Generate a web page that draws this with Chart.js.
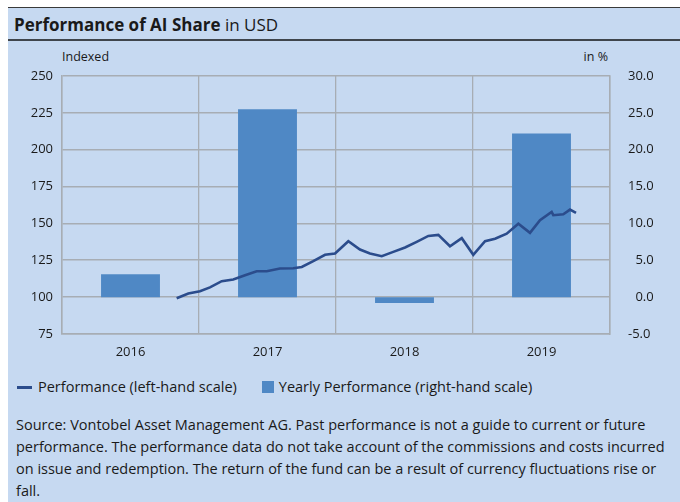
<!DOCTYPE html>
<html lang="en">
<head>
    <meta charset="UTF-8">
    <title>Performance of AI Share in USD</title>
    <script src="https://cdn.jsdelivr.net/npm/chart.js"></script>
    <style>
        body {
            margin: 0;
            background: #ffffff;
            font-family: 'Open Sans', sans-serif;
            color: #1a1a1a;
        }
        #panel {
            position: absolute;
            left: 8px;
            top: 7px;
            width: 672px;
            height: 495px;
            background: #c6d9f1;
            border-top: 1.5px solid #3a3a3a;
            overflow: hidden;
        }
        #title {
            position: absolute;
            left: 6px;
            top: 5px;
            font-size: 17px;
            white-space: nowrap;
        }
        #title b { font-weight: 700; }
        #sep {
            position: absolute;
            left: 0;
            top: 31px;
            width: 672px;
            height: 2px;
            background: #3f454c;
        }
        .unit {
            position: absolute;
            top: 40px;
            font-size: 12.5px;
        }
        #chartBox {
            position: absolute;
            left: 0;
            top: 35px;
            width: 672px;
            height: 330px;
        }
        #legend {
            position: absolute;
            left: 9px;
            top: 369px;
            font-size: 14.5px;
            white-space: nowrap;
        }
        .mark-line {
            display: inline-block;
            width: 15px;
            height: 3px;
            background: #2b4c8c;
            vertical-align: middle;
            margin-right: 6px;
            position: relative;
            top: -1px;
        }
        .mark-bar {
            display: inline-block;
            width: 12px;
            height: 12px;
            background: #4f88c5;
            vertical-align: middle;
            margin-left: 25px;
            margin-right: 5px;
            position: relative;
            top: -1px;
        }
        #source {
            position: absolute;
            left: 8px;
            top: 406px;
            font-size: 14.5px;
            line-height: 22px;
            white-space: nowrap;
        }
    </style>
</head>
<body>

<div id="panel">
    <div id="title"><b>Performance of AI Share</b> in USD</div>
    <div id="sep"></div>
    <div class="unit" style="left:54px;">Indexed</div>
    <div class="unit" style="right:72px;">in %</div>
    <div id="chartBox"><canvas id="chart" width="672" height="330"></canvas></div>
    <div id="legend"><span class="mark-line"></span>Performance (left-hand scale)<span class="mark-bar"></span>Yearly Performance (right-hand scale)</div>
    <div id="source">Source: Vontobel Asset Management AG. Past performance is not a guide to current or future<br>performance. The performance data do not take account of the commissions and costs incurred<br>on issue and redemption. The return of the fund can be a result of currency fluctuations rise or<br>fall.</div>
</div>

<script>
    // Years (categories) and yearly performance in % (right-hand scale)
    const years = ['2016', '2017', '2018', '2019'];
    const yearlyPerf = [3.1, 25.5, -0.8, 22.2];

    // Performance index (left-hand scale), dates as decimal years
    const perfDates = [
        2016.837, 2016.922, 2017.007, 2017.080, 2017.166, 2017.250, 2017.336, 2017.421,
        2017.494, 2017.591, 2017.688, 2017.750, 2017.834, 2017.920, 2017.993, 2018.090,
        2018.175, 2018.248, 2018.334, 2018.418, 2018.504, 2018.589, 2018.674, 2018.747,
        2018.832, 2018.918, 2019.002, 2019.088, 2019.161, 2019.246, 2019.331, 2019.416,
        2019.489, 2019.574, 2019.586, 2019.659, 2019.708, 2019.752
    ];
    const perfValues = [
        99.3, 102.5, 104.0, 106.6, 110.8, 112.0, 114.9, 117.6,
        117.6, 119.4, 119.6, 120.5, 124.4, 128.7, 129.6, 137.9,
        132.3, 129.6, 127.8, 130.7, 133.7, 137.5, 141.5, 142.2,
        134.5, 140.0, 128.7, 137.9, 139.6, 143.0, 149.8, 143.6,
        152.2, 157.8, 155.6, 156.2, 159.4, 157.1
    ];

    // Axis ranges
    const leftMin = 75, leftMax = 250, leftStep = 25;
    const rightMin = -5, rightMax = 30, rightStep = 5;

    const gridColor = '#a7adb4';
    const textColor = '#1a1a1a';

    Chart.defaults.font.family = "'Open Sans', sans-serif";
    Chart.defaults.color = textColor;

    // right-hand labels are right aligned: pad single digits with a figure space
    function rightLabel(v) {
        const s = v.toFixed(1);
        return (v >= 0 && v < 10) ? '\u2007' + s : s;
    }

    const ctx = document.getElementById('chart').getContext('2d');
    new Chart(ctx, {
        type: 'bar',
        data: {
            labels: years,
            datasets: [{
                type: 'line',
                label: 'Performance (left-hand scale)',
                data: perfDates.map((d, i) => ({ x: d, y: perfValues[i] })),
                xAxisID: 'xLine',
                yAxisID: 'yLeft',
                borderColor: '#2b4c8c',
                borderWidth: 2.6,
                pointRadius: 0,
                tension: 0,
                fill: false,
                order: 0
            }, {
                type: 'bar',
                label: 'Yearly Performance (right-hand scale)',
                data: yearlyPerf,
                xAxisID: 'x',
                yAxisID: 'yRight',
                backgroundColor: '#4f88c5',
                borderWidth: 0,
                grouped: false,
                barPercentage: 0.43,
                categoryPercentage: 1,
                order: 1
            }]
        },
        options: {
            responsive: false,
            animation: false,
            layout: { padding: { left: 0, right: 27, top: 33, bottom: 14 } },
            plugins: {
                legend: { display: false },
                tooltip: { enabled: false }
            },
            scales: {
                x: {
                    type: 'category',
                    offset: true,
                    grid: { offset: true, color: gridColor, lineWidth: 1.3, drawTicks: false },
                    border: { display: true, color: gridColor, width: 1.5 },
                    ticks: { padding: 10, font: { size: 13 }, color: textColor },
                    afterFit: s => { s.height = 25; }
                },
                xLine: {
                    type: 'linear',
                    display: false,
                    offset: false,
                    min: 2016,
                    max: 2020
                },
                yLeft: {
                    position: 'left',
                    min: leftMin,
                    max: leftMax,
                    ticks: { stepSize: leftStep, padding: 9, font: { size: 13 }, color: textColor },
                    grid: { color: gridColor, lineWidth: 1.6, drawTicks: false },
                    border: { display: true, color: gridColor, width: 1.5 },
                    afterFit: s => { s.width = 54; }
                },
                yRight: {
                    position: 'right',
                    min: rightMin,
                    max: rightMax,
                    ticks: {
                        stepSize: rightStep,
                        crossAlign: 'near',
                        padding: 18,
                        font: { size: 13 },
                        color: textColor,
                        callback: v => rightLabel(v)
                    },
                    grid: { display: false, drawTicks: false },
                    border: { display: true, color: gridColor, width: 1.5 },
                    afterFit: s => { s.width = 43; }
                }
            }
        }
    });
</script>

</body>
</html>
